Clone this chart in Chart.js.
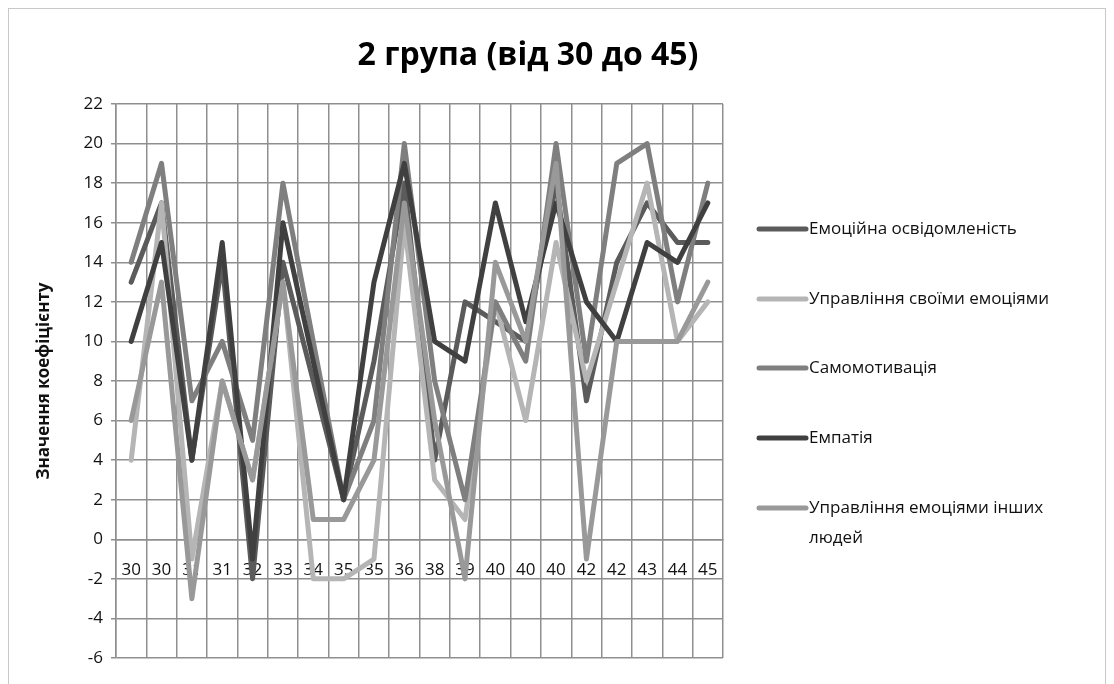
<!DOCTYPE html>
<html>
<head>
<meta charset="utf-8">
<script src="https://cdn.jsdelivr.net/npm/chart.js@4.4.1/dist/chart.umd.min.js"></script>
<style>
  html, body { margin: 0; padding: 0; background: #fff; }
  #wrap { position: relative; width: 1114px; height: 684px; }
</style>
</head>
<body>
<div id="wrap"><canvas id="groupChart" width="1114" height="684"></canvas></div>
<script>
const labels = ['30', '30', '31', '31', '32', '33', '34', '35', '35', '36', '38', '39', '40', '40', '40', '42', '42', '43', '44', '45'];

const awareness   = [13, 17, 4, 14, -2, 14, 8, 2, 9, 18, 4, 12, 11, 10, 18, 7, 14, 17, 15, 15];
const selfControl = [4, 17, -1, 8, 3, 13, -2, -2, -1, 16, 3, 1, 12, 6, 15, 8, 13, 18, 10, 12];
const motivation  = [14, 19, 7, 10, 5, 18, 10, 2, 6, 20, 8, 2, 12, 9, 20, 9, 19, 20, 12, 18];
const empathy     = [10, 15, 4, 15, -1, 16, 9, 2, 13, 19, 10, 9, 17, 11, 17, 12, 10, 15, 14, 17];
const othersCtrl  = [6, 13, -3, 8, 3, 13, 1, 1, 4, 17, 6, -2, 14, 10, 19, -1, 10, 10, 10, 13];

const seriesNames = [
    'Емоційна освідомленість',
    'Управління своїми емоціями',
    'Самомотивація',
    'Емпатія',
    'Управління емоціями інших людей'
];
const seriesColors = ['#5b5b5b', '#b5b5b5', '#7f7f7f', '#404040', '#999999'];
const seriesData = [awareness, selfControl, motivation, empathy, othersCtrl];

const FONT = "'Open Sans', 'DejaVu Sans', sans-serif";

// title, border and right-hand legend drawn on the same canvas
const decorPlugin = {
    id: 'decor',
    beforeDraw(chart) {
        const ctx = chart.ctx;
        ctx.save();
        ctx.strokeStyle = '#c8c8c8';
        ctx.lineWidth = 1;
        ctx.strokeRect(8.5, 8.5, 1097, 700);
        ctx.restore();
    },
    afterDraw(chart) {
        const ctx = chart.ctx;
        ctx.save();
        ctx.fillStyle = '#000';
        ctx.font = 'bold 32px ' + FONT;
        ctx.textAlign = 'center';
        ctx.textBaseline = 'middle';
        ctx.fillText('2 група (від 30 до 45)', 528, 56);

        const rows = [229, 299, 368, 438, 508];
        ctx.font = '17px ' + FONT;
        ctx.textAlign = 'left';
        chart.data.datasets.forEach((ds, i) => {
            const y = rows[i];
            ctx.strokeStyle = ds.borderColor;
            ctx.lineWidth = 5;
            ctx.lineCap = 'round';
            ctx.beginPath();
            ctx.moveTo(759, y);
            ctx.lineTo(806, y);
            ctx.stroke();
            ctx.fillStyle = '#111';
            if (i === 4) {
                ctx.fillText('Управління емоціями інших', 809, y);
                ctx.fillText('людей', 809, y + 30);
            } else {
                ctx.fillText(ds.label, 809, y);
            }
        });
        ctx.restore();
    }
};

const ctx = document.getElementById('groupChart').getContext('2d');
new Chart(ctx, {
    type: 'line',
    data: {
        labels: labels,
        datasets: seriesData.map((d, i) => ({
            label: seriesNames[i],
            data: d,
            borderColor: seriesColors[i],
            backgroundColor: seriesColors[i],
            borderWidth: 5,
            borderJoinStyle: 'round',
            borderCapStyle: 'round',
            pointRadius: 0,
            tension: 0,
            fill: false,
            order: 4 - i
        }))
    },
    options: {
        responsive: false,
        animation: false,
        layout: { padding: { left: 28, right: 391, top: 104, bottom: 26 } },
        plugins: {
            legend: { display: false },
            title: { display: false },
            tooltip: { enabled: false }
        },
        scales: {
            x: {
                type: 'category',
                position: { y: 0 },
                offset: true,
                grid: { offset: true, color: '#8f8f8f', lineWidth: 1.5, drawTicks: false },
                border: { color: '#8f8f8f', width: 1.5 },
                ticks: {
                    autoSkip: false, maxRotation: 0, padding: 21,
                    color: '#111', font: { family: FONT, size: 17 }
                }
            },
            y: {
                min: -6,
                max: 22,
                ticks: {
                    stepSize: 2, padding: 8,
                    color: '#111', font: { family: FONT, size: 17 }
                },
                grid: { color: '#8f8f8f', lineWidth: 1.5, tickLength: 5 },
                border: { color: '#8f8f8f', width: 1.5 },
                title: {
                    display: true,
                    text: 'Значення коефіцієнту',
                    color: '#111',
                    font: { family: FONT, size: 17, weight: 'bold' },
                    padding: { top: 6, bottom: 6 }
                },
                afterFit(scale) { scale.width = 88; }
            }
        }
    },
    plugins: [decorPlugin]
});
</script>
</body>
</html>
